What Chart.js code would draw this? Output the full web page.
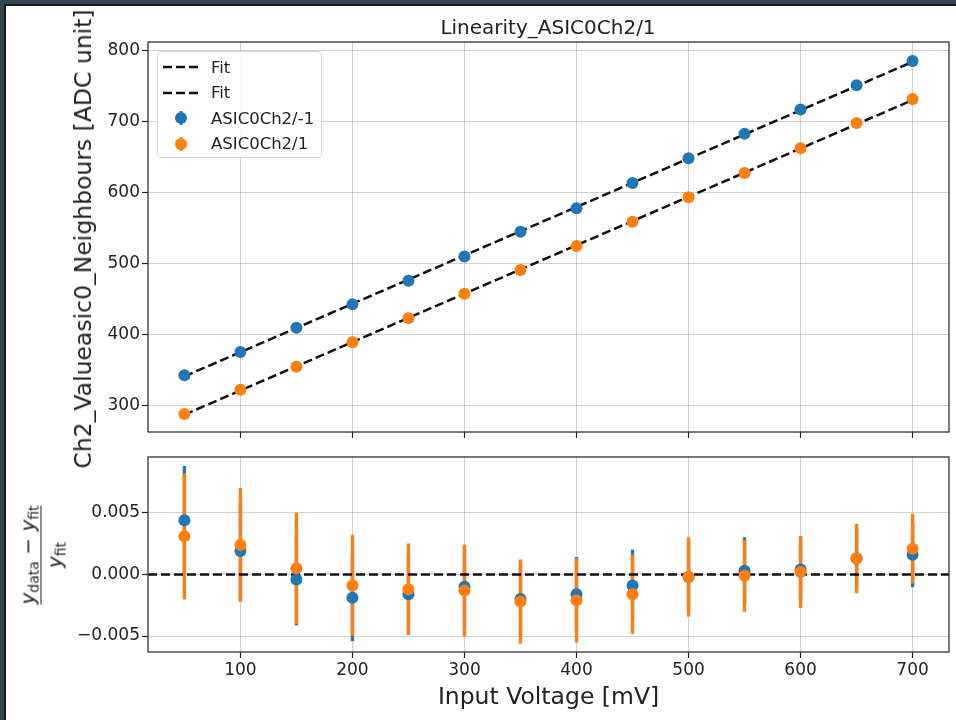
<!DOCTYPE html>
<html>
<head>
<meta charset="utf-8">
<script src="https://cdn.jsdelivr.net/npm/chart.js@4.4.1/dist/chart.umd.min.js"></script>
<style>
  html, body { margin: 0; padding: 0; background: #35454e; overflow: hidden; }
  body { width: 956px; height: 720px; position: relative; font-family: "DejaVu Sans", sans-serif; color: #111; }
  #fig { position: absolute; left: 4px; top: 4px; width: 952px; height: 716px; background: #fff;
         border-left: 2px solid #151a1d; border-top: 2px solid #151a1d; box-sizing: border-box; }
  canvas { position: absolute; left: 0; }
  #topChart { top: 0; }
  #botChart { top: 440px; }
  .rot { position: absolute; transform: translate(-50%, -50%) rotate(-90deg); white-space: nowrap; color: #222; }
  #title { position: absolute; left: 548px; top: 27px; transform: translate(-50%, -50%); font-size: 20px; white-space: nowrap; color: #222; }
  #ylabTop { left: 83px; top: 239px; font-size: 23.5px; }
  #ylabBot { left: 41px; top: 555px; font-size: 20px; }
  .frac { display: inline-flex; flex-direction: column; align-items: center; line-height: 1.15; }
  .frac .bar { display: block; width: 100%; border-top: 1.4px solid #222; margin: 1px 0 2px 0; }
  .frac i { font-style: italic; }
  .frac sub { font-size: 0.7em; vertical-align: -0.32em; line-height: 0; }
  #legend { position: absolute; left: 157px; top: 51px; width: 165px; height: 107px; box-sizing: border-box;
            border: 1px solid #d6d6d6; border-radius: 4px; background: rgba(255,255,255,0.85); }
  .row { position: absolute; left: 5px; height: 20px; display: flex; align-items: center; font-size: 16.5px; color: #222; }
  .row svg { width: 36px; height: 20px; margin-right: 12px; }
</style>
</head>
<body>
<div id="fig"></div>
<canvas id="topChart" width="956" height="480"></canvas>
<canvas id="botChart" width="956" height="280"></canvas>
<div id="title">Linearity_ASIC0Ch2/1</div>
<div id="ylabTop" class="rot">Ch2_Valueasic0_Neighbours [ADC unit]</div>
<div id="ylabBot" class="rot">
  <div class="frac">
    <span class="num"><i>y</i><sub>data</sub> − <i>y</i><sub>fit</sub></span>
    <span class="bar"></span>
    <span class="den"><i>y</i><sub>fit</sub></span>
  </div>
</div>
<div id="legend"></div>

<script>
// input voltage points (mV)
const xVoltage = [50, 100, 150, 200, 250, 300, 350, 400, 450, 500, 550, 600, 650, 700];

// ADC values
const adcBlue = [342.8, 375.6, 409.7, 442.7, 475.8, 510.0, 545.0, 578.0, 613.5, 648.5, 682.8, 717.0, 751.0, 785.4];
const adcOrange = [288.3, 322.6, 354.7, 389.4, 423.3, 457.5, 491.0, 524.8, 559.0, 593.5, 627.6, 662.6, 698.0, 731.8];

// fit lines (end points)
const fitX = [50, 700];
const fitBlue = [341.3, 784.1];
const fitOrange = [287.4, 730.3];

// relative residuals and their errors (bottom panel)
const residBlue = [0.0044, 0.0019, -0.0004, -0.0019, -0.0016, -0.0010, -0.0020, -0.0016, -0.0009, -0.0002, 0.0003, 0.0004, 0.0013, 0.0016];
const residOrange = [0.0031, 0.0024, 0.0005, -0.0009, -0.0012, -0.0013, -0.0022, -0.0021, -0.0016, -0.0002, -0.0001, 0.0002, 0.0013, 0.0021];
const errBlue = [0.0044, 0.0040, 0.0037, 0.0035, 0.0032, 0.0032, 0.0030, 0.0030, 0.0029, 0.0029, 0.0027, 0.0026, 0.0025, 0.0026];
const errOrange = [0.0051, 0.0046, 0.0045, 0.0041, 0.0037, 0.0037, 0.0034, 0.0034, 0.0032, 0.0032, 0.0029, 0.0029, 0.0028, 0.0028];

// axis limits
const xLimits = [17.5, 732.5];
const topYLimits = [263, 812];
const botYLimits = [-0.0063, 0.00955];
const zeroLine = [0, 0];

const seriesNames = ["ASIC0Ch2/-1", "ASIC0Ch2/1"];
const BLUE = "#1f77b4";
const ORANGE = "#ff7f0e";
const FONT = "DejaVu Sans";

const pts = (xs, ys) => xs.map((x, i) => ({ x, y: ys[i] }));
const errBars = (ys, es) => xVoltage.map((x, i) => ({ x, y: [ys[i] - es[i], ys[i] + es[i]] }));

// box around the plotting area, like matplotlib spines
const framePlugin = {
  id: "frame",
  afterDatasetsDraw(chart) {
    const { ctx, chartArea: a } = chart;
    ctx.save();
    ctx.strokeStyle = "#333";
    ctx.lineWidth = 1.3;
    ctx.strokeRect(a.left, a.top, a.right - a.left, a.bottom - a.top);
    ctx.restore();
  }
};

const gridOpts = {
  color: "rgba(170,170,170,0.55)",
  lineWidth: 1,
  borderDash: [1.3, 2.4],
  tickColor: "#222",
  tickLength: 6,
  tickWidth: 1.2,
  tickBorderDash: [],
  offset: false
};

function xAxis(showLabels, height) {
  return {
    type: "linear",
    min: xLimits[0],
    max: xLimits[1],
    offset: false,
    border: { display: false },
    grid: gridOpts,
    ticks: {
      display: showLabels,
      stepSize: 100,
      includeBounds: false,
      autoSkip: false,
      maxRotation: 0,
      padding: 2,
      color: "#222",
      font: { family: FONT, size: 17 }
    },
    title: {
      display: showLabels,
      text: "Input Voltage [mV]",
      color: "#222",
      font: { family: FONT, size: 23.5 },
      padding: { top: 0, bottom: 8 }
    },
    afterFit: s => { s.height = height; }
  };
}

function yAxis(lims, step, fmt) {
  return {
    type: "linear",
    min: lims[0],
    max: lims[1],
    border: { display: false },
    grid: gridOpts,
    ticks: {
      stepSize: step,
      includeBounds: false,
      padding: 2,
      color: "#222",
      font: { family: FONT, size: 17 },
      callback: fmt
    },
    afterFit: s => { s.width = 148; }
  };
}

const baseOptions = {
  responsive: false,
  animation: false,
  events: [],
  plugins: { legend: { display: false }, tooltip: { enabled: false } }
};

const dashed = { borderColor: "#111", borderWidth: 2.5, borderDash: [9, 4], pointRadius: 0, fill: false };
const dot = color => ({ pointRadius: 6, backgroundColor: color, borderWidth: 0 });

// top panel: ADC vs input voltage
new Chart(document.getElementById("topChart"), {
  type: "scatter",
  data: {
    datasets: [
      { type: "scatter", label: seriesNames[1], data: pts(xVoltage, adcOrange), order: 0, ...dot(ORANGE) },
      { type: "scatter", label: seriesNames[0], data: pts(xVoltage, adcBlue), order: 1, ...dot(BLUE) },
      { type: "line", label: "Fit", data: pts(fitX, fitOrange), order: 2, ...dashed },
      { type: "line", label: "Fit", data: pts(fitX, fitBlue), order: 3, ...dashed }
    ]
  },
  options: {
    ...baseOptions,
    layout: { padding: { top: 42, right: 7, left: 0, bottom: 0 } },
    scales: {
      x: xAxis(false, 48),
      y: yAxis(topYLimits, 100, v => v.toFixed(0))
    }
  },
  plugins: [framePlugin]
});

// bottom panel: relative residuals
const fmtResid = v => (Math.abs(v) < 1e-9 ? "0.000" : v.toFixed(3).replace("-", "\u2212"));

new Chart(document.getElementById("botChart"), {
  type: "scatter",
  data: {
    datasets: [
      { type: "scatter", label: seriesNames[1], data: pts(xVoltage, residOrange), order: 0, ...dot(ORANGE) },
      { type: "scatter", label: seriesNames[0], data: pts(xVoltage, residBlue), order: 1, ...dot(BLUE) },
      { type: "line", label: "zero", data: pts(xLimits, zeroLine), order: 2, ...dashed },
      { type: "bar", label: "err orange", data: errBars(residOrange, errOrange), order: 3,
        backgroundColor: ORANGE, barThickness: 2.7, grouped: false, borderWidth: 0 },
      { type: "bar", label: "err blue", data: errBars(residBlue, errBlue), order: 4,
        backgroundColor: BLUE, barThickness: 2.7, grouped: false, borderWidth: 0 }
    ]
  },
  options: {
    ...baseOptions,
    layout: { padding: { top: 17, right: 7, left: 0, bottom: 0 } },
    scales: {
      x: xAxis(true, 68),
      y: yAxis(botYLimits, 0.005, fmtResid)
    }
  },
  plugins: [framePlugin]
});

// legend inside the top panel
const legendRows = [
  { kind: "dash", text: "Fit" },
  { kind: "dash", text: "Fit" },
  { kind: "dot", color: BLUE, text: seriesNames[0] },
  { kind: "dot", color: ORANGE, text: seriesNames[1] }
];
const legend = document.getElementById("legend");
legendRows.forEach((r, i) => {
  const row = document.createElement("div");
  row.className = "row";
  row.style.top = (5 + i * 25.5) + "px";
  const icon = r.kind === "dash"
    ? '<svg viewBox="0 0 36 20"><line x1="0" y1="10" x2="36" y2="10" stroke="#111" stroke-width="2.4" stroke-dasharray="9,4"/></svg>'
    : '<svg viewBox="0 0 36 20"><line x1="18" y1="3" x2="18" y2="17" stroke="' + r.color + '" stroke-width="2.7"/><circle cx="18" cy="10" r="6" fill="' + r.color + '"/></svg>';
  row.innerHTML = icon + "<span>" + r.text + "</span>";
  legend.appendChild(row);
});
</script>
</body>
</html>
